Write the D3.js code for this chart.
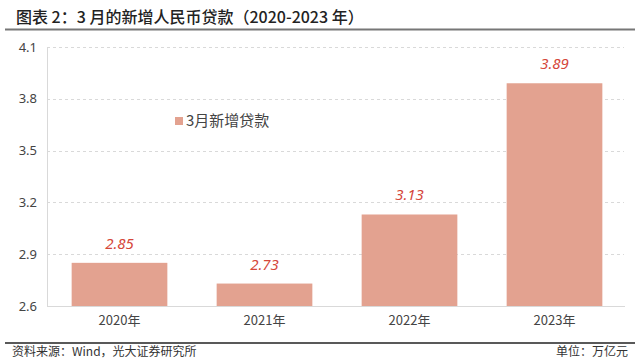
<!DOCTYPE html>
<html><head><meta charset="utf-8">
<script src="https://cdn.jsdelivr.net/npm/d3@7/dist/d3.min.js"></script>
<style>body{margin:0;background:#fff}svg{display:block}text{font-family:"Noto Sans CJK SC","Noto Sans",sans-serif}</style>
</head><body><svg id="c" width="640" height="361"></svg>
<script>
const categories = ["2020年","2021年","2022年","2023年"];
const values = [2.85, 2.73, 3.13, 3.89];
const yTicks = [2.6, 2.9, 3.2, 3.5, 3.8, 4.1];
const seriesName = "3月新增贷款";
const title = "图表 2：3 月的新增人民币贷款（2020-2023 年）";
const source = "资料来源：Wind，光大证券研究所";
const unit = "单位：万亿元";

const svg = d3.select("#c");
const m = {l:47, r:15, t:47, b:55};
const W = 640, H = 361;
const x = d3.scaleBand().domain(categories).range([47, 627]).paddingInner(0.34).paddingOuter(0.17);
const y = d3.scaleLinear().domain([2.6, 4.1]).range([306, 47]);

svg.append("text").attr("x",16).attr("y",23).attr("font-size",16).attr("font-weight",500).attr("fill","#222").text(title);
svg.append("line").attr("x1",5).attr("x2",635).attr("y1",29.5).attr("y2",29.5).attr("stroke","#777").attr("stroke-width",2);

// grid
svg.append("g").selectAll("line").data(yTicks.slice(1)).join("line")
  .attr("x1",47).attr("x2",624).attr("y1",d=>Math.round(y(d))+0.5).attr("y2",d=>Math.round(y(d))+0.5)
  .attr("stroke","#d9d9d9").attr("stroke-dasharray","3,3");

// y axis
const ya = svg.append("g").attr("transform","translate(47,0)").call(d3.axisLeft(y).tickValues(yTicks).tickSize(0).tickPadding(10).tickFormat(d3.format(".1f")));
ya.select(".domain").attr("stroke","#d9d9d9");
ya.selectAll("text").attr("font-size",13).attr("fill","#444").style("font-family","'Noto Sans',sans-serif");

// bars
svg.append("g").selectAll("rect").data(values).join("rect")
  .attr("x",(d,i)=>x(categories[i])).attr("width",x.bandwidth())
  .attr("y",d=>y(d)).attr("height",d=>y(2.6)-y(d)).attr("fill","#e3a290");

// labels
svg.append("g").selectAll("text").data(values).join("text")
  .attr("x",(d,i)=>x(categories[i])+x.bandwidth()/2).attr("y",d=>y(d)-14)
  .attr("text-anchor","middle").attr("font-size",15).attr("font-style","italic").attr("fill","#d5463a")
  .style("font-family","'Noto Sans',sans-serif").text(d=>d.toFixed(2));

// x axis
const xa = svg.append("g").attr("transform","translate(0,306)").call(d3.axisBottom(x).tickSize(0).tickPadding(10));
xa.select(".domain").attr("stroke","#d9d9d9").attr("d","M47,0.5H625");
xa.selectAll("text").attr("font-size",13).attr("fill","#444");

// legend
svg.append("rect").attr("x",175).attr("y",117).attr("width",8).attr("height",8).attr("fill","#e3a290");
svg.append("text").attr("x",186).attr("y",126).attr("font-size",15).attr("fill","#444").text(seriesName);

// footer
svg.append("line").attr("x1",5).attr("x2",635).attr("y1",343).attr("y2",343).attr("stroke","#222").attr("stroke-width",1.5);
svg.append("text").attr("x",12).attr("y",356).attr("font-size",12).attr("fill","#333").text(source);
svg.append("text").attr("x",628).attr("y",356).attr("text-anchor","end").attr("font-size",12).attr("fill","#333").text(unit);
</script></body></html>
